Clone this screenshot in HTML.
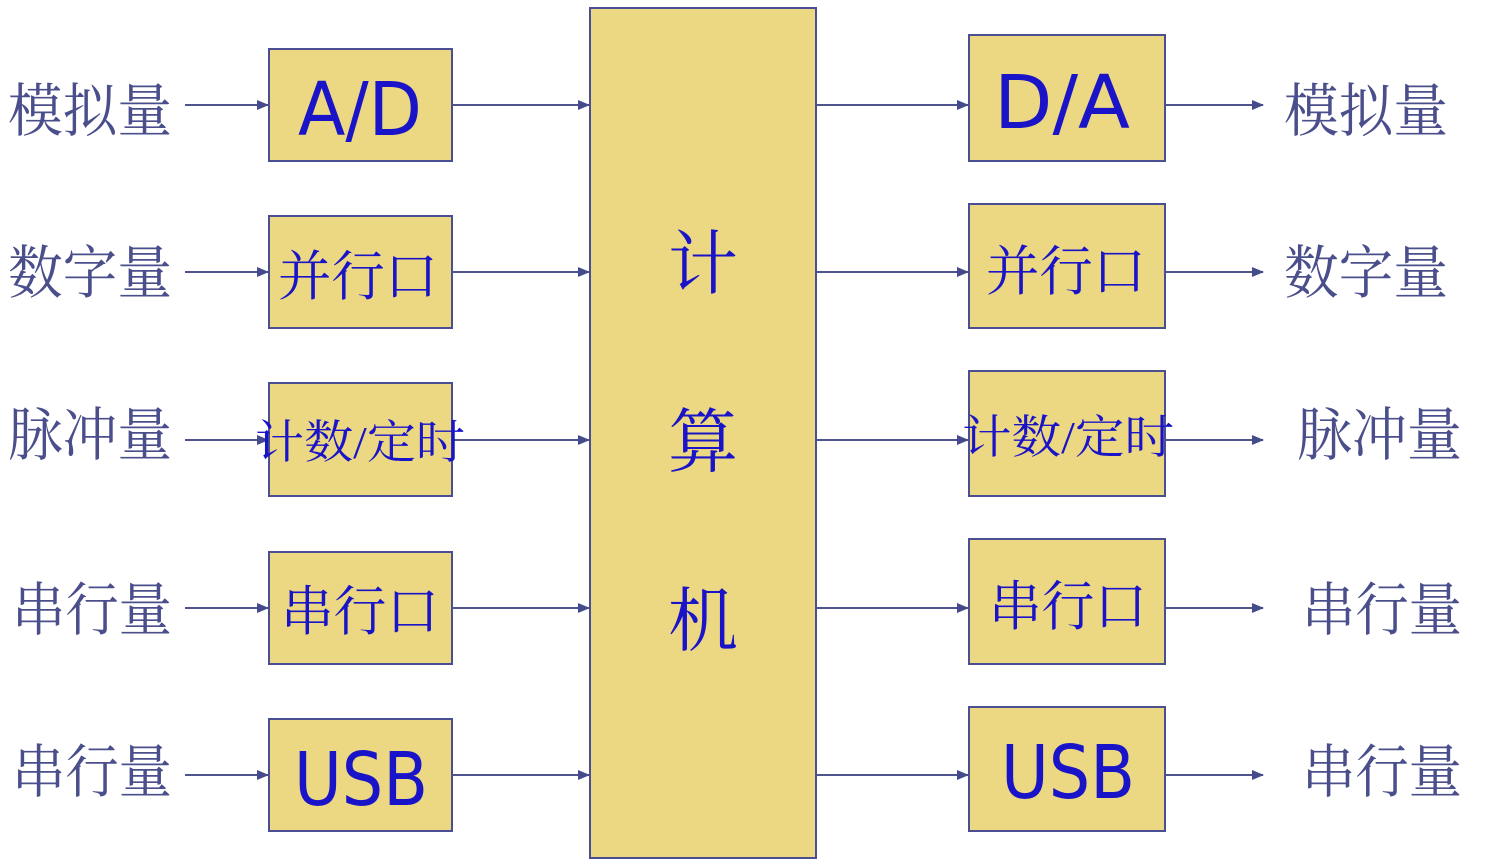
<!DOCTYPE html>
<html><head><meta charset="utf-8"><style>
html,body{margin:0;padding:0;background:#fff;}
svg{display:block;}
.lab{font-family:"Liberation Serif","Noto Serif CJK SC",serif;fill:#4a4f8c;font-size:58px;}
.cj{font-family:"Liberation Serif","Noto Serif CJK SC",serif;fill:#1a14c8;}
.lat{font-family:"DejaVu Sans","Liberation Sans",sans-serif;fill:#1a14c8;}
</style></head><body>
<svg width="1493" height="868" viewBox="0 0 1493 868" xmlns="http://www.w3.org/2000/svg">
<defs><marker id="a" markerWidth="12" markerHeight="12" refX="11" refY="6" orient="auto" markerUnits="userSpaceOnUse"><path d="M0,1 L12,6 L0,11 Z" fill="#454a8a"/></marker></defs>
<g fill="#ecd782" stroke="#4a4f94" stroke-width="2">
<rect x="590" y="8" width="226" height="850"/>
<rect x="269" y="49" width="183" height="112"/>
<rect x="269" y="216" width="183" height="112"/>
<rect x="269" y="383" width="183" height="113"/>
<rect x="269" y="552" width="183" height="112"/>
<rect x="269" y="719" width="183" height="112"/>
<rect x="969" y="35" width="196" height="126"/>
<rect x="969" y="204" width="196" height="124"/>
<rect x="969" y="371" width="196" height="125"/>
<rect x="969" y="539" width="196" height="125"/>
<rect x="969" y="707" width="196" height="124"/>
</g>
<g stroke="#4f5390" stroke-width="2" marker-end="url(#a)">
<line x1="185" y1="105" x2="268" y2="105"/><line x1="453" y1="105" x2="589" y2="105"/><line x1="817" y1="105" x2="968" y2="105"/><line x1="1166" y1="105" x2="1263" y2="105"/>
<line x1="185" y1="272" x2="268" y2="272"/><line x1="453" y1="272" x2="589" y2="272"/><line x1="817" y1="272" x2="968" y2="272"/><line x1="1166" y1="272" x2="1263" y2="272"/>
<line x1="185" y1="440" x2="268" y2="440"/><line x1="453" y1="440" x2="589" y2="440"/><line x1="817" y1="440" x2="968" y2="440"/><line x1="1166" y1="440" x2="1263" y2="440"/>
<line x1="185" y1="608" x2="268" y2="608"/><line x1="453" y1="608" x2="589" y2="608"/><line x1="817" y1="608" x2="968" y2="608"/><line x1="1166" y1="608" x2="1263" y2="608"/>
<line x1="185" y1="775" x2="268" y2="775"/><line x1="453" y1="775" x2="589" y2="775"/><line x1="817" y1="775" x2="968" y2="775"/><line x1="1166" y1="775" x2="1263" y2="775"/>
</g>
<g class="lab">
<text x="8" y="131" textLength="164" lengthAdjust="spacingAndGlyphs">模拟量</text>
<text x="8" y="293" textLength="164" lengthAdjust="spacingAndGlyphs">数字量</text>
<text x="8" y="455" textLength="164" lengthAdjust="spacingAndGlyphs">脉冲量</text>
<text x="12" y="630" textLength="160" lengthAdjust="spacingAndGlyphs">串行量</text>
<text x="12" y="792" textLength="160" lengthAdjust="spacingAndGlyphs">串行量</text>
<text x="1284" y="131" textLength="164" lengthAdjust="spacingAndGlyphs">模拟量</text>
<text x="1284" y="293" textLength="164" lengthAdjust="spacingAndGlyphs">数字量</text>
<text x="1297" y="455" textLength="165" lengthAdjust="spacingAndGlyphs">脉冲量</text>
<text x="1302" y="630" textLength="160" lengthAdjust="spacingAndGlyphs">串行量</text>
<text x="1302" y="792" textLength="160" lengthAdjust="spacingAndGlyphs">串行量</text>
</g>
<g class="cj" font-size="70">
<text x="703" y="288" text-anchor="middle">计</text>
<text x="703" y="466" text-anchor="middle">算</text>
<text x="703" y="645" text-anchor="middle">机</text>
</g>
<g class="cj" font-size="54">
<text x="278" y="295" textLength="160" lengthAdjust="spacingAndGlyphs">并行口</text>
<text x="986" y="290" textLength="160" lengthAdjust="spacingAndGlyphs">并行口</text>
<text x="281" y="630" textLength="158" lengthAdjust="spacingAndGlyphs">串行口</text>
<text x="989" y="625" textLength="158" lengthAdjust="spacingAndGlyphs">串行口</text>
</g>
<g class="cj" font-size="46">
<text x="255" y="458" textLength="210" lengthAdjust="spacingAndGlyphs">计数/定时</text>
<text x="962" y="453" textLength="212" lengthAdjust="spacingAndGlyphs">计数/定时</text>
</g>
<g class="lat" font-size="74">
<text x="298" y="135" textLength="124" lengthAdjust="spacingAndGlyphs">A/D</text>
<text x="994" y="128" textLength="136" lengthAdjust="spacingAndGlyphs">D/A</text>
<text x="294" y="805" textLength="134" lengthAdjust="spacingAndGlyphs">USB</text>
<text x="1001" y="798" textLength="134" lengthAdjust="spacingAndGlyphs">USB</text>
</g>
</svg>
</body></html>
